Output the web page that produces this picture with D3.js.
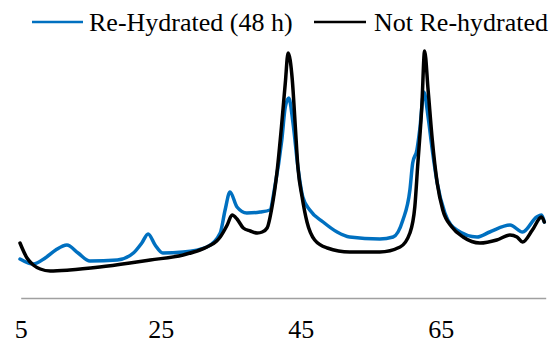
<!DOCTYPE html>
<html>
<head>
<meta charset="utf-8">
<script src="https://cdn.jsdelivr.net/npm/d3@7"></script>
<style>
  html, body { margin: 0; padding: 0; background: #fff; }
  svg { display: block; }
  text { font-family: "Liberation Serif", "Times New Roman", serif; }
</style>
</head>
<body>
<svg id="chart" width="558" height="345"></svg>
<script>
// ---- data (2θ in degrees, intensity in arbitrary units) ----
const seriesNames = ["Re-Hydrated (48 h)", "Not Re-hydrated"];
const seriesColors = ["#0070C0", "#000000"];
const tickLabels = [5, 25, 45, 65];

const rehydratedAngle = [4.9, 6.8, 8.5, 10.0, 11.6, 13.2, 14.9, 18.8, 21.1, 22.3, 23.2, 24.2, 25.3, 28.2, 31.6, 33.5, 34.2, 34.9, 35.9, 37.3, 39.2, 40.6, 41.3, 42.3, 42.8, 43.3, 43.9, 44.6, 45.3, 46.3, 48.2, 50.2, 52.0, 56.3, 58.2, 59.6, 60.6, 61.0, 61.6, 62.0, 62.6, 63.2, 63.8, 64.5, 65.6, 67.3, 70.2, 72.0, 74.9, 76.7, 78.7, 79.4, 79.8];
const rehydratedValue = [39, 34, 40, 48, 53, 45, 37, 38, 45, 55, 64, 53, 45, 46, 51, 65, 88, 106, 91, 85, 86, 88, 111, 158, 191, 200, 175, 131, 101, 88, 76, 66, 61, 59, 61, 78, 108, 135, 148, 168, 206, 181, 148, 115, 85, 68, 61, 66, 73, 66, 81, 83, 76];

const notRehydratedAngle = [4.9, 5.9, 6.8, 7.8, 9.2, 12.0, 16.3, 20.6, 23.5, 28.2, 30.6, 31.6, 33.0, 33.5, 34.5, 35.2, 35.9, 36.8, 37.8, 38.8, 39.5, 40.2, 40.9, 41.6, 42.3, 42.8, 43.2, 43.8, 44.2, 44.6, 45.2, 45.9, 47.0, 48.8, 52.0, 56.3, 59.2, 60.6, 61.3, 61.7, 62.3, 62.7, 63.2, 63.8, 64.5, 65.3, 66.6, 68.2, 70.6, 73.0, 74.9, 75.9, 76.7, 78.1, 79.4, 79.8];
const notRehydratedValue = [55, 40, 33, 29, 27, 28, 31, 35, 38, 43, 48, 51, 57, 61, 73, 83, 79, 70, 67, 65, 66, 70, 91, 125, 175, 215, 245, 218, 175, 131, 101, 76, 58, 50, 46, 46, 51, 65, 91, 131, 191, 247, 208, 158, 115, 88, 71, 61, 55, 58, 63, 61, 56, 68, 81, 76];

// ---- chart ----
const svg = d3.select("#chart");
const x = d3.scaleLinear().domain([5, 80]).range([20.7, 545.7]);
const y = d3.scaleLinear().domain([0, 280]).range([298, 18]);

const series = [
  { name: seriesNames[0], color: seriesColors[0], xs: rehydratedAngle, ys: rehydratedValue },
  { name: seriesNames[1], color: seriesColors[1], xs: notRehydratedAngle, ys: notRehydratedValue }
];

// axis
const axis = d3.axisBottom(x)
  .tickValues(tickLabels)
  .tickSizeInner(0)
  .tickSizeOuter(0)
  .tickPadding(21.5)
  .tickFormat(d3.format("d"));

const gx = svg.append("g").attr("transform", `translate(0,${y(0)})`).call(axis);
gx.attr("font-family", null).attr("font-size", null);
gx.select(".domain").attr("stroke", "#a0a0a0").attr("stroke-width", 1.5);
gx.selectAll("text")
  .attr("fill", "#000")
  .style("font-size", "26px")
  .style("font-family", '"Liberation Serif", "Times New Roman", serif');

// lines
const line = d3.line()
  .x(d => x(d[0]))
  .y(d => y(d[1]))
  .curve(d3.curveMonotoneX);

series.forEach(s => {
  const pts = s.xs.map((v, i) => [v, s.ys[i]]);
  svg.append("path")
    .datum(pts)
    .attr("fill", "none")
    .attr("stroke", s.color)
    .attr("stroke-width", 3.5)
    .attr("stroke-linejoin", "round")
    .attr("stroke-linecap", "round")
    .attr("d", line);
});

// legend
const legendItems = [
  { x0: 32, x1: 83, tx: 89 },
  { x0: 314, x1: 366, tx: 374 }
];
series.forEach((s, i) => {
  const L = legendItems[i];
  svg.append("line")
    .attr("x1", L.x0).attr("x2", L.x1)
    .attr("y1", 22).attr("y2", 22)
    .attr("stroke", s.color)
    .attr("stroke-width", 2.5);
  svg.append("text")
    .attr("x", L.tx).attr("y", 31)
    .attr("fill", "#000")
    .style("font-size", "26px")
    .text(s.name);
});
</script>
</body>
</html>
